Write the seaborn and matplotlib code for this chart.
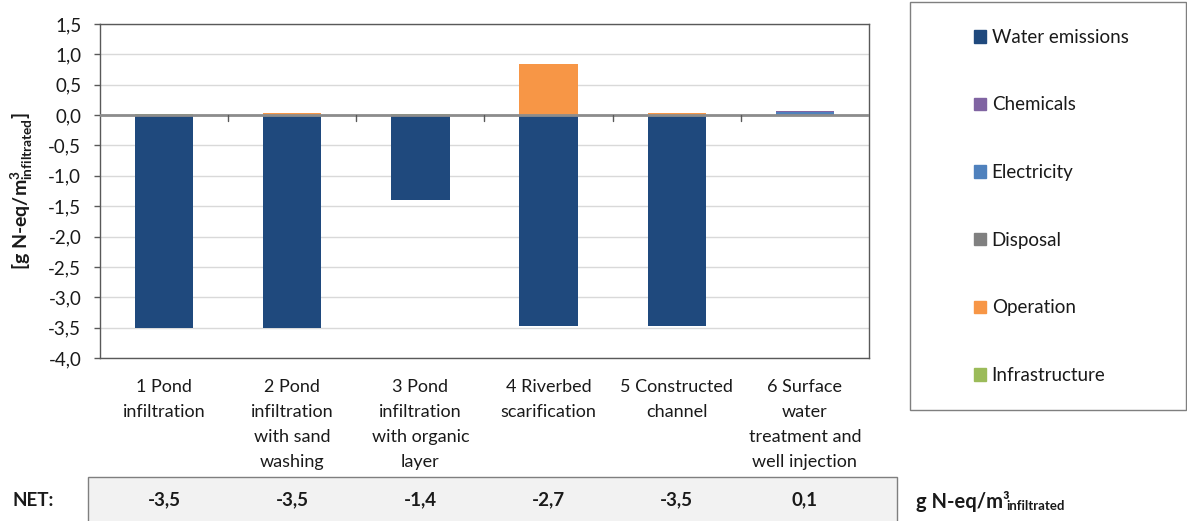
import matplotlib
matplotlib.use("Agg")
import matplotlib.pyplot as plt
import matplotlib.patches as mpatches
from matplotlib.ticker import FuncFormatter
import seaborn as sns
import pandas as pd

# Chart data
categories = ["1 Pond\ninfiltration",
              "2 Pond\ninfiltration\nwith sand\nwashing",
              "3 Pond\ninfiltration\nwith organic\nlayer",
              "4 Riverbed\nscarification",
              "5 Constructed\nchannel",
              "6 Surface\nwater\ntreatment and\nwell injection"]
water_emissions = [-3.50, -3.50, -1.40, -3.48, -3.48, 0.00]
chemicals = [0.00, 0.00, 0.00, 0.00, 0.00, 0.025]
electricity = [0.00, 0.00, 0.00, 0.00, 0.00, 0.045]
disposal = [0.00, 0.00, 0.00, 0.00, 0.00, 0.00]
operation = [0.00, 0.04, 0.00, 0.84, 0.03, 0.00]
infrastructure = [0.02, 0.00, 0.02, 0.00, 0.00, 0.00]
net_values = ["-3,5", "-3,5", "-1,4", "-2,7", "-3,5", "0,1"]
yticks = [-4.0, -3.5, -3.0, -2.5, -2.0, -1.5, -1.0, -0.5, 0.0, 0.5, 1.0, 1.5]

colors = {"Water emissions": "#1F497D", "Chemicals": "#8064A2",
          "Electricity": "#4F81BD", "Disposal": "#808080",
          "Operation": "#F79646", "Infrastructure": "#9BBB59"}
txt = "#1a1a1a"

sns.set_style("white")
plt.rcParams["font.family"] = ["Lato", "DejaVu Sans"]
plt.rcParams["mathtext.fontset"] = "custom"
plt.rcParams["mathtext.rm"] = "Lato"
plt.rcParams["mathtext.bf"] = "Lato:bold"

fig = plt.figure(figsize=(11.87, 5.21), dpi=100)
ax = fig.add_axes([100 / 1187, 163 / 521, 769 / 1187, 334 / 521])

df = pd.DataFrame({"cat": categories, "Water emissions": water_emissions,
                   "Chemicals": chemicals, "Electricity": electricity,
                   "Disposal": disposal, "Operation": operation,
                   "Infrastructure": infrastructure})

# positive stack order (bottom to top), drawn tallest first
stack = ["Infrastructure", "Operation", "Disposal", "Electricity", "Chemicals"]
cum = df[stack].cumsum(axis=1)
for name in reversed(stack):
    sns.barplot(data=df.assign(h=cum[name]), x="cat", y="h", order=categories,
                color=colors[name], saturation=1, width=0.455, linewidth=0,
                ax=ax, zorder=2)
sns.barplot(data=df, x="cat", y="Water emissions", order=categories,
            color=colors["Water emissions"], saturation=1, width=0.455,
            linewidth=0, ax=ax, zorder=2)

ax.set_xlim(-0.5, len(categories) - 0.5)
ax.set_ylim(-4.0, 1.5)
ax.set_yticks(yticks)
ax.yaxis.set_major_formatter(FuncFormatter(lambda v, p: f"{v:.1f}".replace(".", ",")))
ax.grid(axis="y", color="#d9d9d9", lw=1, zorder=0)
ax.set_axisbelow(True)

for s in ax.spines.values():
    s.set_color("#595959")
    s.set_linewidth(1)

ax.tick_params(axis="y", left=True, length=4.5, width=1, color="#595959",
               labelsize=13.5, labelcolor=txt, pad=9)
ax.tick_params(axis="x", bottom=False, length=0, labelsize=13,
               labelcolor=txt, pad=15)
for lbl in ax.get_xticklabels():
    lbl.set_linespacing(1.7)
    lbl.set_verticalalignment("top")

# zero line and category separators
ax.axhline(0, color="#8c8c8c", lw=2, zorder=3)
for i in range(len(categories) - 1):
    ax.plot([i + 0.5, i + 0.5], [0, -0.1], color="#595959", lw=1, zorder=3)

ax.set_xlabel("")
ax.set_ylabel(r"[g N-eq/m$\mathbf{^{3}_{infiltrated}}$]", fontsize=14,
              fontweight="bold", color=txt)
ax.yaxis.set_label_coords(-0.084, 0.5)

# legend in its own box
fig.patches.append(mpatches.Rectangle((910 / 1187, 111 / 521), 276 / 1187, 408 / 521,
                                      transform=fig.transFigure, fill=False,
                                      edgecolor="#7f7f7f", lw=1))
legend_order = ["Water emissions", "Chemicals", "Electricity", "Disposal",
                "Operation", "Infrastructure"]
handles = [mpatches.Patch(color=colors[n], label=n) for n in legend_order]
fig.legend(handles=handles, loc="upper left", bbox_to_anchor=(957 / 1187, 509 / 521),
           frameon=False, fontsize=13.5, handlelength=0.65, handleheight=0.65,
           handletextpad=0.3, labelspacing=2.7, labelcolor=txt)

# NET row
fig.patches.append(mpatches.Rectangle((88 / 1187, -5 / 521), 809 / 1187, 49 / 521,
                                      transform=fig.transFigure, facecolor="#f2f2f2",
                                      edgecolor="#7f7f7f", lw=1, zorder=-1))
fig.text(12 / 1187, 21 / 521, "NET:", fontsize=13.5, fontweight="bold",
         color=txt, va="center")
trans = ax.get_xaxis_transform()
for i, v in enumerate(net_values):
    ax.text(i, -0.425, v, transform=trans, ha="center", va="center",
            fontsize=13.5, fontweight="bold", color=txt, clip_on=False)
fig.text(916 / 1187, 13 / 521, "g N-eq/m³", fontsize=14.5,
         fontweight="bold", color=txt, va="baseline")
fig.text(1006 / 1187, 11 / 521, "infiltrated", fontsize=9.5,
         fontweight="bold", color=txt, va="baseline")

fig.savefig("out.png", dpi=100)
